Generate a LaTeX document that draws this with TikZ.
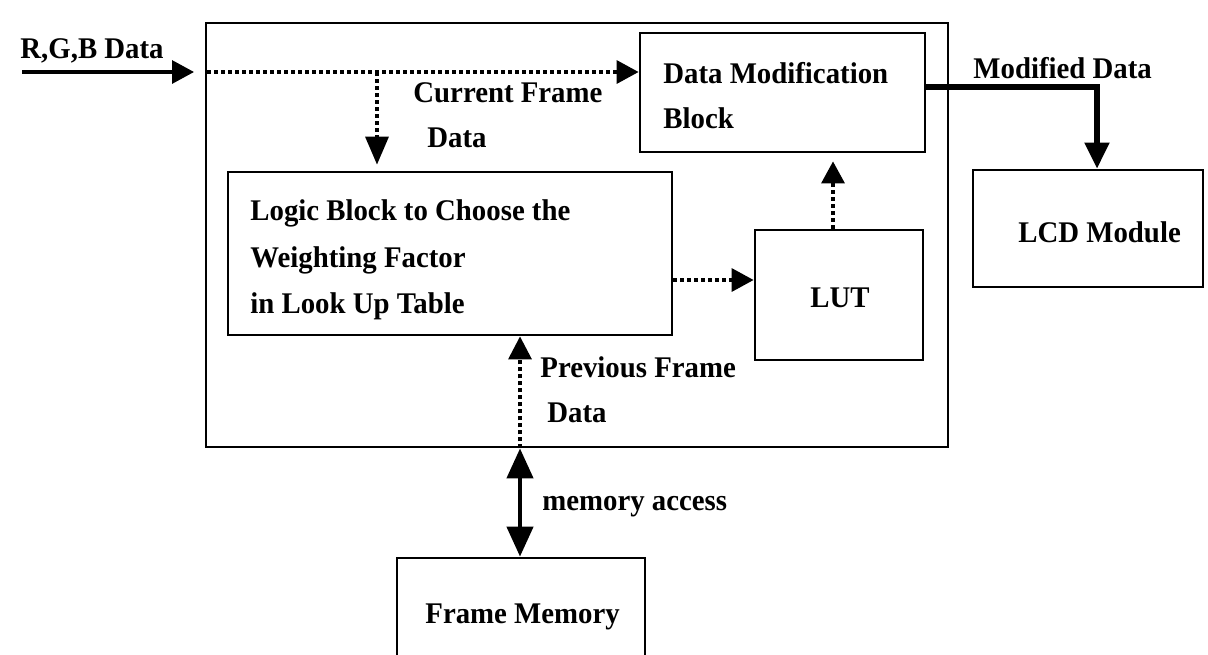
\documentclass[tikz,border=0pt]{standalone}
\usepackage{fontspec}
\setmainfont[FakeStretch=0.96]{Liberation Serif}
\usetikzlibrary{arrows.meta,fit}
\begin{document}
\begin{tikzpicture}[x=0.5pt,y=-0.5pt,
  box/.style={draw,line width=1.4pt,inner sep=0pt},
  lbl/.style={font=\fontsize{15}{18}\selectfont\bfseries,inner sep=0pt,anchor=base west},
  tipA/.style={-{Triangle[length=11pt,width=11.5pt]}},
  dots/.style={line width=1.7pt,dash pattern=on 2pt off 1.5pt},
]
\clip (0,0) rectangle (1208,654);
% boxes
\node[box,fit={(206,23) (948,447)}] (outer) {};
\node[box,fit={(640,33) (925,152)}] (dmb) {};
\node[box,fit={(228,172) (672,335)}] (logic) {};
\node[box,fit={(755,230) (923,360)}] (lut) {};
\node[box,fit={(973,170) (1203,287)}] (lcd) {};
\node[box,fit={(397,558) (645,680)}] (fm) {};
% texts
\node[lbl] (trgb) at (20,58) {R,G,B Data};
\node[lbl] (tcur1) at (413,102) {Current Frame};
\node[lbl] (tcur2) at (427,147) {Data};
\node[lbl] (tdmb1) at (663,83) {Data Modification};
\node[lbl] (tdmb2) at (663,128) {Block};
\node[lbl] (tmod) at (973,78) {Modified Data};
\node[lbl] (tlcd) at (1018,242) {LCD Module};
\node[lbl,anchor=base] (tlut) at (840,307) {LUT};
\node[lbl] (tlog1) at (250,220) {Logic Block to Choose the};
\node[lbl] (tlog2) at (250,267) {Weighting Factor};
\node[lbl] (tlog3) at (250,313) {in Look Up Table};
\node[lbl] (tprev1) at (540,377) {Previous Frame};
\node[lbl] (tprev2) at (547,422) {Data};
\node[lbl] (tmem) at (542,510) {memory access};
\node[lbl] (tfm) at (425,623) {Frame Memory};
% coordinates
\coordinate (rgbs) at (22,72);
\coordinate (rgbe) at (194,72);
\coordinate (din) at (207,72);
\coordinate (xcur) at (377,72);
\coordinate (ylog) at (0,280);
\coordinate (xlut) at (833,0);
\coordinate (ymod) at (0,87);
\coordinate (xmod) at (1097,0);
\coordinate (xmem) at (520,0);
% connectors
\draw[line width=1.6pt,tipA] (rgbs) -- (rgbe);
\draw[dots,tipA] (din) -- (din -| dmb.west);
\draw[dots,-{Triangle[length=14pt,width=11.5pt]}] (xcur) -- ([yshift=3pt]xcur |- logic.north);
\draw[dots,tipA] (logic.east |- ylog) -- (lut.west |- ylog);
\draw[dots,tipA] (lut.north -| xlut) -- ([yshift=-4pt]dmb.south -| xlut);
\draw[line width=2.6pt,-{Triangle[length=13pt,width=12pt]}] (dmb.east |- ymod) -- (xmod |- ymod) -- (xmod |- lcd.north);
\draw[dots,-{Triangle[length=11.5pt,width=11.5pt]}] (outer.south -| xmem) -- (logic.south -| xmem);
\draw[line width=2.2pt,{Triangle[length=15pt,width=13pt]}-{Triangle[length=15pt,width=13pt]}] (outer.south -| xmem) -- (fm.north -| xmem);
\end{tikzpicture}
\end{document}
